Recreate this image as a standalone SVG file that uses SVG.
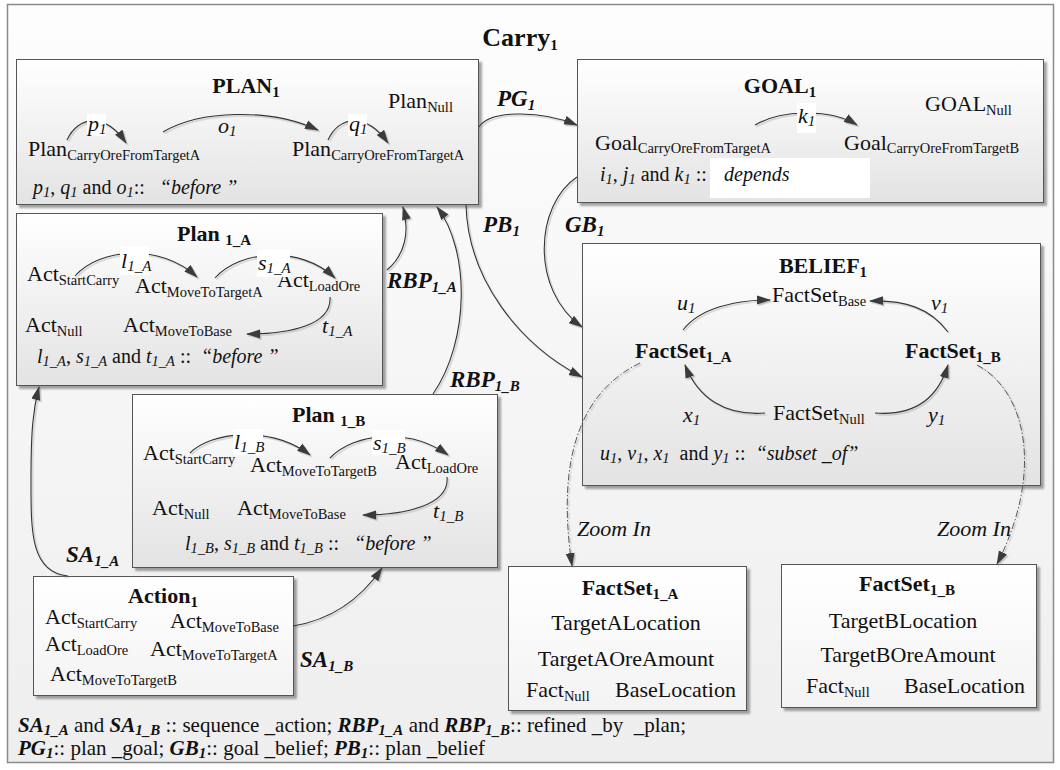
<svg xmlns="http://www.w3.org/2000/svg" width="1060" height="770" viewBox="0 0 1060 770" font-family="Liberation Serif, Times New Roman, serif">
  <defs>
    <linearGradient id="bgFill" x1="0" y1="0" x2="0" y2="1">
      <stop offset="0" stop-color="#fdfdfd"/>
      <stop offset="1" stop-color="#eeeeee"/>
    </linearGradient>
    <linearGradient id="boxFill" x1="0" y1="0" x2="0" y2="1">
      <stop offset="0" stop-color="#ffffff"/>
      <stop offset="1" stop-color="#e3e3e3"/>
    </linearGradient>
    <linearGradient id="plainFill" x1="0" y1="0" x2="0" y2="1">
      <stop offset="0" stop-color="#ffffff"/>
      <stop offset="1" stop-color="#f3f3f3"/>
    </linearGradient>
    <filter id="boxShadow" x="-5%" y="-5%" width="115%" height="120%">
      <feDropShadow dx="3" dy="3" stdDeviation="1" flood-color="#000" flood-opacity="0.35"/>
    </filter>
    <filter id="lineShadow" x="-10%" y="-10%" width="120%" height="120%">
      <feDropShadow dx="1.5" dy="1.5" stdDeviation="0.3" flood-color="#888" flood-opacity="0.5"/>
    </filter>
    <marker id="arrow" viewBox="0 0 14 10" refX="13" refY="5" markerWidth="14" markerHeight="10" markerUnits="userSpaceOnUse" orient="auto">
      <path d="M0,0.5 L14,5 L0,9.5 z" fill="#3a3a3a"/>
    </marker>
    <style>
      text { font-family: "Liberation Serif", "Times New Roman", serif; fill: #111; }
      .frame { fill: url(#bgFill); stroke: #8a8a8a; stroke-width: 1.5; }
      .box { fill: url(#boxFill); stroke: #555; stroke-width: 1; filter: url(#boxShadow); }
      .pbox { fill: url(#plainFill); stroke: #555; stroke-width: 1; filter: url(#boxShadow); }
      .t-main { font-size: 26px; font-weight: bold; }
      .t-title { font-size: 22px; font-weight: bold; }
      .t-node { font-size: 22px; }
      .t-note { font-size: 20px; }
      .t-legend { font-size: 21px; }
      .t-edge { font-size: 23px; font-weight: bold; font-style: italic; }
      .t-rel { font-size: 22px; font-style: italic; }
      .sub { font-size: 14.5px; }
      .subb { font-size: 15px; font-weight: bold; }
      .sub-e { font-size: 15px; }
      .it { font-style: italic; }
      .bi { font-weight: bold; font-style: italic; }
      .lbl-bg { fill: #fff; }
      .edge { fill: none; stroke: #333; stroke-width: 1.1; marker-end: url(#arrow); }
      .zoom-edge { fill: none; stroke: #555; stroke-width: 1; stroke-dasharray: 7 2 1.5 2; marker-end: url(#arrow); }
    </style>
  </defs>

  <!-- outer frame and overall title -->
  <g id="frame">
    <rect class="frame" x="7.5" y="4.5" width="1046" height="758"/>
    <text class="t-main" x="520" y="46" text-anchor="middle">Carry<tspan class="subb" dy="4">1</tspan></text>
  </g>

  <!-- PLAN1 -->
  <g id="node-plan1">
    <rect class="box" x="16.5" y="59.5" width="462" height="145"/>
    <text class="t-title" x="246" y="93" text-anchor="middle">PLAN<tspan class="subb" dy="4">1</tspan></text>
    <text class="t-node" x="388" y="108">Plan<tspan class="sub" dy="4">Null</tspan></text>
    <text class="t-node" x="28" y="156">Plan<tspan class="sub" dy="4">CarryOreFromTargetA</tspan></text>
    <text class="t-node" x="292" y="156">Plan<tspan class="sub" dy="4">CarryOreFromTargetA</tspan></text>
    <text class="t-note" x="33" y="194" xml:space="preserve"><tspan class="it">p</tspan><tspan class="sub it" dy="3">1</tspan><tspan dy="-3">, </tspan><tspan class="it">q</tspan><tspan class="sub it" dy="3">1</tspan><tspan dy="-3"> and </tspan><tspan class="it">o</tspan><tspan class="sub it" dy="3">1</tspan><tspan dy="-3">::   </tspan><tspan class="it">“before ”</tspan></text>
  </g>

  <!-- GOAL1 -->
  <g id="node-goal1">
    <rect class="box" x="577.5" y="59.5" width="466" height="143"/>
    <text class="t-title" x="780" y="93" text-anchor="middle">GOAL<tspan class="subb" dy="4">1</tspan></text>
    <text class="t-node" x="925" y="111">GOAL<tspan class="sub" dy="4">Null</tspan></text>
    <text class="t-node" x="595" y="150">Goal<tspan class="sub" dy="3">CarryOreFromTargetA</tspan></text>
    <text class="t-node" x="844" y="150">Goal<tspan class="sub" dy="3">CarryOreFromTargetB</tspan></text>
    <text class="t-note" x="600" y="181" xml:space="preserve"><tspan class="it">i</tspan><tspan class="sub it" dy="3">1</tspan><tspan dy="-3">, </tspan><tspan class="it">j</tspan><tspan class="sub it" dy="3">1</tspan><tspan dy="-3"> and </tspan><tspan class="it">k</tspan><tspan class="sub it" dy="3">1</tspan><tspan dy="-3"> ::</tspan></text>
    <rect x="710" y="158" width="160" height="40" fill="#fff"/>
    <text class="t-note it" x="724" y="181">depends</text>
  </g>

  <!-- Plan 1_A -->
  <g id="node-plan1a">
    <rect class="box" x="16.5" y="213.5" width="366" height="172"/>
    <text class="t-title" x="177" y="241">Plan <tspan class="subb" dy="4">1_A</tspan></text>
    <text class="t-node" x="27" y="281">Act<tspan class="sub" dy="4">StartCarry</tspan></text>
    <text class="t-node" x="135" y="293">Act<tspan class="sub" dy="4">MoveToTargetA</tspan></text>
    <text class="t-node" x="277" y="287">Act<tspan class="sub" dy="4">LoadOre</tspan></text>
    <text class="t-node" x="25" y="332">Act<tspan class="sub" dy="4">Null</tspan></text>
    <text class="t-node" x="123" y="332">Act<tspan class="sub" dy="4">MoveToBase</tspan></text>
    <text class="t-note" x="37" y="363" xml:space="preserve"><tspan class="it">l</tspan><tspan class="sub it" dy="3">1_A</tspan><tspan dy="-3">, </tspan><tspan class="it">s</tspan><tspan class="sub it" dy="3">1_A</tspan><tspan dy="-3"> and </tspan><tspan class="it">t</tspan><tspan class="sub it" dy="3">1_A</tspan><tspan dy="-3"> ::  </tspan><tspan class="it">“before ”</tspan></text>
  </g>

  <!-- Plan 1_B -->
  <g id="node-plan1b">
    <rect class="box" x="132.5" y="394.5" width="365" height="173"/>
    <text class="t-title" x="292" y="422">Plan <tspan class="subb" dy="4">1_B</tspan></text>
    <text class="t-node" x="143" y="460">Act<tspan class="sub" dy="4">StartCarry</tspan></text>
    <text class="t-node" x="250" y="472">Act<tspan class="sub" dy="4">MoveToTargetB</tspan></text>
    <text class="t-node" x="395" y="469">Act<tspan class="sub" dy="4">LoadOre</tspan></text>
    <text class="t-node" x="152" y="515">Act<tspan class="sub" dy="4">Null</tspan></text>
    <text class="t-node" x="237" y="515">Act<tspan class="sub" dy="4">MoveToBase</tspan></text>
    <text class="t-note" x="185" y="550" xml:space="preserve"><tspan class="it">l</tspan><tspan class="sub it" dy="3">1_B</tspan><tspan dy="-3">, </tspan><tspan class="it">s</tspan><tspan class="sub it" dy="3">1_B</tspan><tspan dy="-3"> and </tspan><tspan class="it">t</tspan><tspan class="sub it" dy="3">1_B</tspan><tspan dy="-3"> ::   </tspan><tspan class="it">“before ”</tspan></text>
  </g>

  <!-- BELIEF1 -->
  <g id="node-belief1">
    <rect class="box" x="582.5" y="243.5" width="458" height="242"/>
    <text class="t-title" x="823" y="273" text-anchor="middle">BELIEF<tspan class="subb" dy="4">1</tspan></text>
    <text class="t-node" x="772" y="302">FactSet<tspan class="sub" dy="4">Base</tspan></text>
    <text class="t-title" x="635" y="358">FactSet<tspan class="subb" dy="4">1_A</tspan></text>
    <text class="t-title" x="905" y="358">FactSet<tspan class="subb" dy="4">1_B</tspan></text>
    <text class="t-node" x="773" y="420">FactSet<tspan class="sub" dy="4">Null</tspan></text>
    <text class="t-note" x="600" y="460" xml:space="preserve"><tspan class="it">u</tspan><tspan class="sub it" dy="3">1</tspan><tspan dy="-3">, </tspan><tspan class="it">v</tspan><tspan class="sub it" dy="3">1</tspan><tspan dy="-3">, </tspan><tspan class="it">x</tspan><tspan class="sub it" dy="3">1</tspan><tspan dy="-3">  and </tspan><tspan class="it">y</tspan><tspan class="sub it" dy="3">1</tspan><tspan dy="-3"> ::  </tspan><tspan class="it">“subset _of”</tspan></text>
  </g>

  <!-- Action1 -->
  <g id="node-action1">
    <rect class="pbox" x="33.5" y="576.5" width="260" height="119"/>
    <text class="t-title" x="163" y="603" text-anchor="middle">Action<tspan class="subb" dy="4">1</tspan></text>
    <text class="t-node" x="45" y="624">Act<tspan class="sub" dy="4">StartCarry</tspan></text>
    <text class="t-node" x="170" y="628">Act<tspan class="sub" dy="4">MoveToBase</tspan></text>
    <text class="t-node" x="45" y="651">Act<tspan class="sub" dy="4">LoadOre</tspan></text>
    <text class="t-node" x="150" y="656">Act<tspan class="sub" dy="4">MoveToTargetA</tspan></text>
    <text class="t-node" x="50" y="681">Act<tspan class="sub" dy="4">MoveToTargetB</tspan></text>
  </g>

  <!-- FactSet1_A detail -->
  <g id="node-factset1a">
    <rect class="pbox" x="508.5" y="566.5" width="238" height="144"/>
    <text class="t-title" x="630" y="595" text-anchor="middle">FactSet<tspan class="subb" dy="4">1_A</tspan></text>
    <text class="t-node" x="626" y="630" text-anchor="middle">TargetALocation</text>
    <text class="t-node" x="626" y="666" text-anchor="middle">TargetAOreAmount</text>
    <text class="t-node" x="526" y="697">Fact<tspan class="sub" dy="4">Null</tspan></text>
    <text class="t-node" x="615" y="697">BaseLocation</text>
  </g>

  <!-- FactSet1_B detail -->
  <g id="node-factset1b">
    <rect class="pbox" x="781.5" y="564.5" width="255" height="143"/>
    <text class="t-title" x="907" y="591" text-anchor="middle">FactSet<tspan class="subb" dy="4">1_B</tspan></text>
    <text class="t-node" x="903" y="628" text-anchor="middle">TargetBLocation</text>
    <text class="t-node" x="908" y="662" text-anchor="middle">TargetBOreAmount</text>
    <text class="t-node" x="806" y="693">Fact<tspan class="sub" dy="4">Null</tspan></text>
    <text class="t-node" x="904" y="693">BaseLocation</text>
  </g>

  <!-- connectors -->
  <g id="connectors" filter="url(#lineShadow)">
    <!-- inside PLAN1 -->
    <path class="edge" d="M67,140 C78,116 105,112 126,143"/>
    <path class="edge" d="M163,132 C200,110 270,108 318,130"/>
    <path class="edge" d="M328,140 C339,116 366,112 388,143"/>
    <!-- inside GOAL1 -->
    <path class="edge" d="M755,125 C780,110 830,108 857,125"/>
    <!-- inside Plan 1_A -->
    <path class="edge" d="M75,276 C100,248 160,243 197,277"/>
    <path class="edge" d="M215,278 C240,250 300,245 335,278"/>
    <path class="edge" d="M330,297 C332,325 290,334 247,334"/>
    <!-- inside Plan 1_B -->
    <path class="edge" d="M190,453 C210,432 270,425 310,455"/>
    <path class="edge" d="M330,458 C355,432 410,428 448,455"/>
    <path class="edge" d="M447,477 C450,505 405,515 363,515"/>
    <!-- inside BELIEF1 -->
    <path class="edge" d="M683,330 C700,308 735,300 770,300"/>
    <path class="edge" d="M948,332 C930,308 905,300 870,301"/>
    <path class="edge" d="M765,413 C725,416 698,398 685,365"/>
    <path class="edge" d="M875,413 C915,416 938,398 948,365"/>
    <!-- between nodes -->
    <path class="edge" d="M479,127 C490,110 540,110 577,125"/>
    <path class="edge" d="M577,177 C535,205 530,290 582,327"/>
    <path class="edge" d="M466,205 C468,280 520,345 582,377"/>
    <path class="edge" d="M387,270 C405,255 410,232 403,207"/>
    <path class="edge" d="M433,394 C470,340 470,250 437,207"/>
    <path class="edge" d="M68,576 C30,572 31,530 31,480 C31,430 33,410 39,387"/>
    <path class="edge" d="M293,626 C330,620 360,600 382,568"/>
    <path class="zoom-edge" d="M640,363 C585,390 555,450 572,566"/>
    <path class="zoom-edge" d="M977,365 C1025,390 1045,470 997,564"/>
  </g>

  <!-- connector labels -->
  <g id="edge-labels">
    <rect class="lbl-bg" x="87" y="114" width="19" height="22"/>
    <text class="t-rel" x="88" y="131">p<tspan class="sub-e" dy="3">1</tspan></text>
    <text class="t-rel" x="218" y="133">o<tspan class="sub-e" dy="3">1</tspan></text>
    <rect class="lbl-bg" x="348" y="114" width="19" height="22"/>
    <text class="t-rel" x="349" y="131">q<tspan class="sub-e" dy="3">1</tspan></text>
    <rect class="lbl-bg" x="797" y="103" width="19" height="30"/>
    <text class="t-rel" x="798" y="123">k<tspan class="sub-e" dy="3">1</tspan></text>

    <rect class="lbl-bg" x="120" y="246" width="29" height="29"/>
    <text class="t-rel" x="121" y="268">l<tspan class="sub-e" dy="3">1_A</tspan></text>
    <rect class="lbl-bg" x="257" y="250" width="33" height="27"/>
    <text class="t-rel" x="258" y="270">s<tspan class="sub-e" dy="3">1_A</tspan></text>
    <text class="t-rel" x="322" y="333">t<tspan class="sub-e" dy="3">1_A</tspan></text>

    <rect class="lbl-bg" x="233" y="429" width="30" height="26"/>
    <text class="t-rel" x="234" y="449">l<tspan class="sub-e" dy="3">1_B</tspan></text>
    <rect class="lbl-bg" x="372" y="430" width="33" height="25"/>
    <text class="t-rel" x="373" y="450">s<tspan class="sub-e" dy="3">1_B</tspan></text>
    <text class="t-rel" x="433" y="518">t<tspan class="sub-e" dy="3">1_B</tspan></text>

    <text class="t-rel" x="677" y="310">u<tspan class="sub-e" dy="3">1</tspan></text>
    <text class="t-rel" x="931" y="310">v<tspan class="sub-e" dy="3">1</tspan></text>
    <text class="t-rel" x="683" y="422">x<tspan class="sub-e" dy="3">1</tspan></text>
    <text class="t-rel" x="928" y="422">y<tspan class="sub-e" dy="3">1</tspan></text>

    <text class="t-edge" x="497" y="106">PG<tspan class="sub-e" dy="4">1</tspan></text>
    <text class="t-edge" x="565" y="232">GB<tspan class="sub-e" dy="4">1</tspan></text>
    <text class="t-edge" x="483" y="232">PB<tspan class="sub-e" dy="4">1</tspan></text>
    <text class="t-edge" x="387" y="288">RBP<tspan class="sub-e" dy="4">1_A</tspan></text>
    <text class="t-edge" x="450" y="387">RBP<tspan class="sub-e" dy="4">1_B</tspan></text>
    <text class="t-edge" x="66" y="562">SA<tspan class="sub-e" dy="4">1_A</tspan></text>
    <text class="t-edge" x="300" y="667">SA<tspan class="sub-e" dy="4">1_B</tspan></text>
    <text class="t-rel" x="577" y="536">Zoom In</text>
    <text class="t-rel" x="937" y="536">Zoom In</text>
  </g>

  <!-- relation legend -->
  <g id="legend">
    <text class="t-legend" x="18" y="732" xml:space="preserve"><tspan class="bi">SA</tspan><tspan class="sub-e bi" dy="3">1_A</tspan><tspan dy="-3"> and </tspan><tspan class="bi">SA</tspan><tspan class="sub-e bi" dy="3">1_B</tspan><tspan dy="-3"> :: sequence _action; </tspan><tspan class="bi">RBP</tspan><tspan class="sub-e bi" dy="3">1_A</tspan><tspan dy="-3"> and </tspan><tspan class="bi">RBP</tspan><tspan class="sub-e bi" dy="3">1_B</tspan><tspan dy="-3">:: refined _by  _plan;</tspan></text>
    <text class="t-legend" x="18" y="755" xml:space="preserve"><tspan class="bi">PG</tspan><tspan class="sub-e bi" dy="3">1</tspan><tspan dy="-3">:: plan _goal; </tspan><tspan class="bi">GB</tspan><tspan class="sub-e bi" dy="3">1</tspan><tspan dy="-3">:: goal _belief; </tspan><tspan class="bi">PB</tspan><tspan class="sub-e bi" dy="3">1</tspan><tspan dy="-3">:: plan _belief</tspan></text>
  </g>
</svg>
